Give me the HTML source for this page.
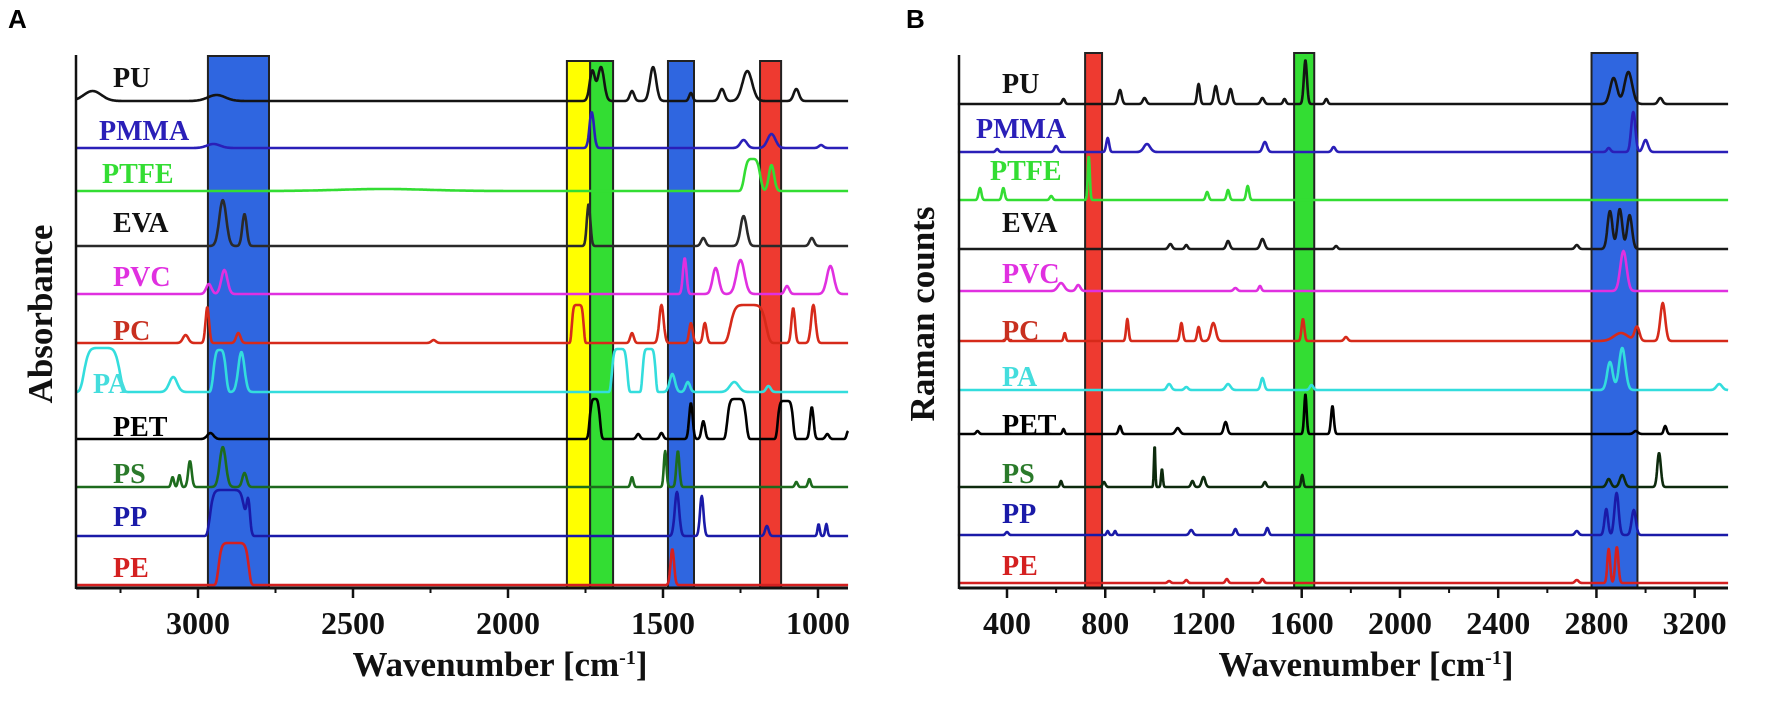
<!DOCTYPE html>
<html><head><meta charset="utf-8"><style>
html,body{margin:0;padding:0;background:#fff;}
svg{display:block;font-family:"Liberation Serif",serif;}
.lbl{font-weight:bold;font-size:28px;}
.tick{font-weight:bold;font-size:32px;text-anchor:middle;}
.title{font-weight:bold;font-size:35px;text-anchor:middle;}
</style></head><body>
<svg id="fig" width="1772" height="703" viewBox="0 0 1772 703">
<g id="panelA"></g>
<g id="panelB"></g>
</svg>
<script>
// ---- shared data ----
const seriesNames = ["PU","PMMA","PTFE","EVA","PVC","PC","PA","PET","PS","PP","PE"];
const lineColorsA = ["#141414","#2a1fb8","#33dd33","#2a2a2a","#e030e0","#d62a1a","#33dddd","#000000","#1d6b1d","#1a1aa8","#d42020"];
const lineColorsB = ["#141414","#2a1fb8","#33dd33","#1a1a1a","#e030e0","#d62a1a","#33dddd","#000000","#0d2a0d","#1a1aa8","#d42020"];
const labelColors = ["#111","#2a1fb8","#33dd33","#111","#e030e0","#c83020","#44dddd","#000","#2a7a2a","#1a1aa8","#d42020"];

// ---- FTIR (panel A) ----
const ftirTicks = [3000,2500,2000,1500,1000];
const ftirMinorTicks = [3250,2750,2250,1750,1250];
const ftirBaselines = [101,148,191,246,294,343,392,439,487,536,585];
const ftirLabelY = [77,130,173,222,276,330,383,426,473,516,567];
const ftirLabelX = [113,99,102,113,113,113,93,113,113,113,113];
const ftirBoxes = [[2968,2771,"#2f66e0",56],[1810,1735,"#ffff00",61],[1735,1661,"#33dd33",61],[1484,1400,"#2f66e0",61],[1187,1119,"#ee3a30",61]];
// peaks: [wavenumber, height, sigma, exponent]
const ftirPU   = [[3340,10,40,2],[2940,6,40,2],[1728,30,12,2],[1700,34,14,2],[1600,10,10,2],[1532,34,14,2],[1410,8,8,2],[1310,12,12,2],[1228,30,22,2],[1070,12,12,2]];
const ftirPMMA = [[2950,4,30,2],[1730,36,10,2],[1240,8,15,2],[1150,14,18,2],[990,3,10,2]];
const ftirPTFE = [[2400,2,200,2],[1212,32,28,4],[1150,26,12,2]];
const ftirEVA  = [[2920,46,16,2],[2850,32,10,2],[1740,42,8,2],[1370,8,10,2],[1240,30,14,2],[1020,8,10,2]];
const ftirPVC  = [[2965,10,12,2],[2915,24,14,2],[1430,36,8,2],[1330,26,14,2],[1250,34,18,2],[1100,8,10,2],[960,28,16,2]];
const ftirPC   = [[3040,8,12,2],[2970,36,8,2],[2870,10,10,2],[2240,3,10,2],[1775,38,20,6],[1600,10,8,2],[1505,38,10,2],[1410,20,8,2],[1365,20,8,2],[1225,38,60,6],[1080,35,8,2],[1015,38,10,2]];
const ftirPA   = [[3310,44,60,6],[3080,15,18,2],[2930,42,22,4],[2860,40,14,2],[1640,43,26,6],[1545,43,22,6],[1470,18,12,2],[1420,10,10,2],[1270,10,20,2],[1160,6,10,2]];
const ftirPET  = [[2960,6,14,2],[1720,40,18,4],[1580,5,8,2],[1505,6,8,2],[1410,36,8,2],[1370,18,8,2],[1262,40,32,6],[1105,38,26,6],[1020,32,8,2],[970,5,8,2],[903,8,6,2]];
const ftirPS   = [[3082,10,6,2],[3060,12,6,2],[3026,26,8,2],[2920,40,14,2],[2850,14,10,2],[1600,10,6,2],[1493,36,6,2],[1452,36,7,2],[1070,5,6,2],[1028,8,6,2]];
const ftirPP   = [[2905,46,58,8],[2838,36,8,2],[1455,44,10,2],[1375,40,8,2],[1165,10,8,2],[998,12,5,2],[973,12,5,2]];
const ftirPE   = [[2885,42,50,8],[1470,36,8,2]];
const ftirPeaks = [ftirPU,ftirPMMA,ftirPTFE,ftirEVA,ftirPVC,ftirPC,ftirPA,ftirPET,ftirPS,ftirPP,ftirPE];

// ---- Raman (panel B) ----
const ramanTicks = [400,800,1200,1600,2000,2400,2800,3200];
const ramanMinorTicks = [600,1000,1400,1800,2200,2600,3000];
const ramanBaselines = [104,152,200,249,291,341,390,434,487,535,583];
const ramanLabelY = [83,128,170,222,273,330,376,424,473,513,565];
const ramanLabelX = [1002,976,990,1002,1002,1002,1002,1002,1002,1002,1002];
const ramanBoxes = [[718,787,"#ee3a30",53],[1569,1651,"#33dd33",53],[2780,2967,"#2f66e0",53]];
const ramanPU   = [[630,5,8,2],[860,14,10,2],[960,6,10,2],[1180,20,8,2],[1250,18,10,2],[1310,15,10,2],[1440,6,10,2],[1530,5,8,2],[1615,44,9,2],[1700,5,8,2],[2870,26,20,2],[2930,32,22,2],[3060,6,12,2]];
const ramanPMMA = [[360,3,8,2],[600,6,10,2],[810,14,8,2],[970,8,18,2],[1450,10,12,2],[1730,5,10,2],[2850,4,10,2],[2950,40,12,2],[3000,12,14,2]];
const ramanPTFE = [[290,12,8,2],[385,12,8,2],[580,4,8,2],[733,44,6,2],[1215,8,8,2],[1300,10,8,2],[1380,14,8,2]];
const ramanEVA  = [[1065,5,10,2],[1130,4,8,2],[1300,8,10,2],[1440,10,12,2],[1740,3,8,2],[2720,4,10,2],[2855,38,14,2],[2895,40,14,2],[2935,34,14,2]];
const ramanPVC  = [[620,8,18,2],[690,6,12,2],[1330,3,10,2],[1430,5,8,2],[2910,40,18,2]];
const ramanPC   = [[400,5,6,2],[635,8,6,2],[890,22,7,2],[1110,18,8,2],[1180,14,8,2],[1240,18,14,2],[1605,22,8,2],[1780,4,10,2],[2900,8,40,2],[2965,14,14,2],[3070,38,14,2]];
const ramanPA   = [[1060,6,12,2],[1130,3,10,2],[1300,6,14,2],[1440,12,10,2],[1640,5,10,2],[2855,28,16,2],[2905,42,18,2],[3300,6,16,2]];
const ramanPET  = [[280,3,8,2],[630,5,6,2],[860,8,8,2],[1095,6,12,2],[1290,12,10,2],[1615,40,7,2],[1725,28,8,2],[2960,3,12,2],[3080,8,8,2]];
const ramanPS   = [[620,6,6,2],[795,5,8,2],[1001,42,4,2],[1031,18,5,2],[1155,6,8,2],[1200,10,10,2],[1450,5,8,2],[1602,12,6,2],[2850,8,12,2],[2905,12,14,2],[3055,34,10,2]];
const ramanPP   = [[400,3,8,2],[810,4,6,2],[840,4,6,2],[1150,5,10,2],[1330,6,8,2],[1460,7,8,2],[2720,4,10,2],[2840,26,10,2],[2882,42,12,2],[2952,25,12,2]];
const ramanPE   = [[1060,2,8,2],[1130,3,8,2],[1295,4,8,2],[1440,4,8,2],[2720,3,10,2],[2850,34,8,2],[2883,36,9,2]];
const ramanPeaks = [ramanPU,ramanPMMA,ramanPTFE,ramanEVA,ramanPVC,ramanPC,ramanPA,ramanPET,ramanPS,ramanPP,ramanPE];

const NS = "http://www.w3.org/2000/svg";
function mk(tag, attrs, parent){
  const e = document.createElementNS(NS, tag);
  for (const k in attrs) e.setAttribute(k, attrs[k]);
  parent.appendChild(e);
  return e;
}
function signal(w, peaks){
  let s = 0;
  for (const p of peaks){
    const z = Math.abs((w - p[0]) / p[2]);
    s += p[1] * Math.exp(-Math.pow(z, p[3]));
  }
  return s;
}

function drawPanel(cfg){
  const g = document.getElementById(cfg.id);
  const xs = w => cfg.x0 + (w - cfg.w0) * cfg.k;
  const top = 55, bot = 588;
  cfg.boxes.forEach((b, i) => {
    const x1 = xs(b[0]), x2 = xs(b[1]);
    const r = mk("rect", {x: Math.min(x1,x2), y: b[3], width: Math.abs(x2-x1), height: bot - b[3], fill: b[2], stroke: "#222", "stroke-width": 2}, g);
    
    
  });
  cfg.peaks.forEach((pk, i) => {
    let d = "";
    const lo = Math.min(cfg.wMin, cfg.wMax), hi = Math.max(cfg.wMin, cfg.wMax);
    for (let w = lo; w <= hi; w += 2){
      const y = cfg.base[i] - signal(w, pk);
      d += (d ? "L" : "M") + xs(w).toFixed(1) + "," + y.toFixed(1);
    }
    const p = mk("path", {d: d, fill: "none", stroke: cfg.colors[i], "stroke-width": 2.6, "stroke-linejoin": "round"}, g);
    
    
    const t = mk("text", {x: cfg.lx[i], y: cfg.ly[i] + 10, fill: labelColors[i], class: "lbl"}, g);
    t.textContent = seriesNames[i];
    
    
  });
  const ya = mk("line", {x1: cfg.axL, y1: top, x2: cfg.axL, y2: bot + 1, stroke: "#111", "stroke-width": 2.5}, g);
  
  
  const xa = mk("line", {x1: cfg.axL, y1: bot, x2: cfg.axR, y2: bot, stroke: "#111", "stroke-width": 3}, g);
  
  
  cfg.minor.forEach(v => {
    const x = xs(v);
    const tk = mk("line", {x1: x, y1: bot, x2: x, y2: bot + 5, stroke: "#111", "stroke-width": 2}, g);
    
    
  });
  cfg.ticks.forEach(v => {
    const x = xs(v);
    const tk = mk("line", {x1: x, y1: bot, x2: x, y2: bot + 10, stroke: "#111", "stroke-width": 2.5}, g);
    
    
    const tl = mk("text", {x: x, y: 634, class: "tick", fill: "#111"}, g);
    tl.textContent = v;
    
    
  });
  const xt = mk("text", {x: cfg.titleX, y: 676, class: "title", fill: "#111"}, g);
  xt.innerHTML = 'Wavenumber [cm<tspan dy="-12" font-size="20">-1</tspan><tspan dy="12">]</tspan>';
  
  
  const yt = mk("text", {x: 0, y: 0, class: "title", fill: "#111", transform: "translate(" + cfg.yTitleX + ",314) rotate(-90)"}, g);
  yt.textContent = cfg.yTitle;
  
  
  const pl = mk("text", {x: cfg.letterX, y: 28, "font-family": "Liberation Sans, sans-serif", "font-weight": "bold", "font-size": "26", fill: "#000"}, g);
  pl.textContent = cfg.letter;
  
  
}

drawPanel({id:"panelA", x0:198, w0:3000, k:-0.31, wMin:3394, wMax:903, axL:76, axR:848,
  boxes: ftirBoxes, peaks: ftirPeaks, base: ftirBaselines, colors: lineColorsA, lx: ftirLabelX, ly: ftirLabelY,
  ticks: ftirTicks, minor: ftirMinorTicks, titleX: 500, yTitle: "Absorbance", yTitleX: 52, letter: "A", letterX: 8});
drawPanel({id:"panelB", x0:1007, w0:400, k:0.2456, wMin:200, wMax:3336, axL:959, axR:1728,
  boxes: ramanBoxes, peaks: ramanPeaks, base: ramanBaselines, colors: lineColorsB, lx: ramanLabelX, ly: ramanLabelY,
  ticks: ramanTicks, minor: ramanMinorTicks, titleX: 1366, yTitle: "Raman counts", yTitleX: 934, letter: "B", letterX: 906});
</script>
</body></html>
